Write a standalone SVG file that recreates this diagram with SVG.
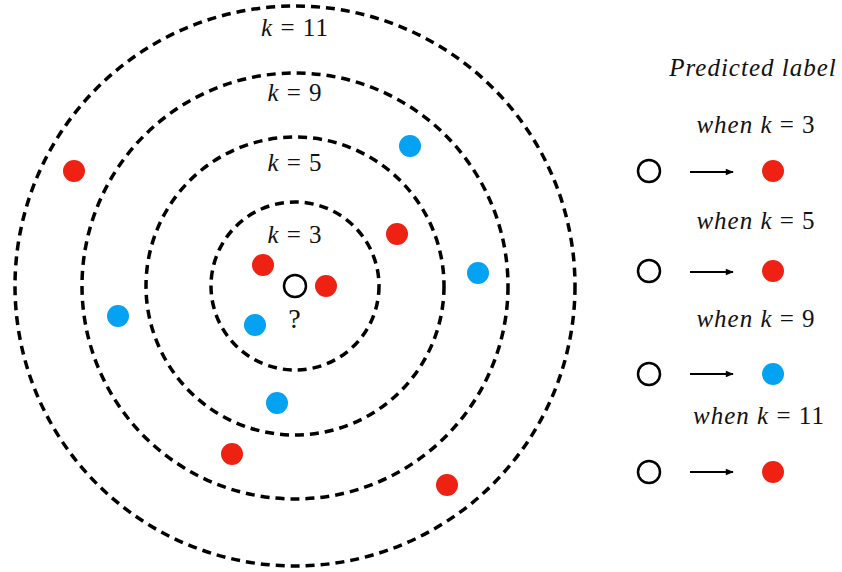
<svg xmlns="http://www.w3.org/2000/svg" width="842" height="572" viewBox="0 0 842 572">
<style>
.ring{fill:none;stroke:#000;stroke-width:3.5;stroke-dasharray:9 6}
.r{fill:#ee2112}
.b{fill:#03a2f2}
.q{fill:#fff;stroke:#000;stroke-width:2.5}
.t{font-family:"Liberation Serif",serif;font-size:25px;fill:#111;text-anchor:middle;letter-spacing:1px}
.i{font-style:italic}
.arr{stroke:#000;stroke-width:1.8;fill:none}
</style>
<defs>
<marker id="ah" viewBox="0 0 10 10" refX="9" refY="5" markerWidth="9" markerHeight="8" markerUnits="userSpaceOnUse" orient="auto">
<path d="M0,1 L10,5 L0,9 z" fill="#000"/>
</marker>
</defs>
<rect width="842" height="572" fill="#fff"/>
<g id="rings">
<circle class="ring" cx="295" cy="286" r="84"/>
<circle class="ring" cx="295" cy="286" r="149"/>
<circle class="ring" cx="295" cy="286" r="213"/>
<circle class="ring" cx="295" cy="286" r="280"/>
</g>
<g id="ring-labels">
<text class="t" x="295" y="36"><tspan class="i">k</tspan> = 11</text>
<text class="t" x="295" y="101"><tspan class="i">k</tspan> = 9</text>
<text class="t" x="295" y="171"><tspan class="i">k</tspan> = 5</text>
<text class="t" x="295" y="243"><tspan class="i">k</tspan> = 3</text>
</g>
<g id="points">
<circle class="r" cx="74" cy="171" r="11"/>
<circle class="b" cx="410" cy="146" r="11"/>
<circle class="r" cx="397" cy="234" r="11"/>
<circle class="b" cx="478" cy="273" r="11"/>
<circle class="r" cx="263" cy="265" r="11"/>
<circle class="r" cx="326" cy="286" r="11"/>
<circle class="b" cx="118" cy="316" r="11"/>
<circle class="b" cx="255" cy="325" r="11"/>
<circle class="b" cx="277" cy="403" r="11"/>
<circle class="r" cx="232" cy="454" r="11"/>
<circle class="r" cx="447" cy="485" r="11"/>
</g>
<g id="query">
<circle class="q" cx="295" cy="286" r="11"/>
<text class="t" x="295" y="328" style="font-size:28px">?</text>
</g>
<g id="legend">
<text class="t i" x="753" y="76">Predicted label</text>
<text class="t" x="756" y="133"><tspan class="i">when k</tspan> = 3</text>
<text class="t" x="756" y="229"><tspan class="i">when k</tspan> = 5</text>
<text class="t" x="756" y="327"><tspan class="i">when k</tspan> = 9</text>
<text class="t" x="759" y="424"><tspan class="i">when k</tspan> = 11</text>
<circle class="q" cx="649" cy="171" r="11"/>
<circle class="r" cx="773" cy="171" r="11"/>
<circle class="q" cx="649" cy="271" r="11"/>
<circle class="r" cx="773" cy="271" r="11"/>
<circle class="q" cx="649" cy="374" r="11"/>
<circle class="b" cx="773" cy="374" r="11"/>
<circle class="q" cx="649" cy="472" r="11"/>
<circle class="r" cx="773" cy="472" r="11"/>
</g>
<g id="connectors">
<line class="arr" x1="690" y1="172" x2="733" y2="172" marker-end="url(#ah)"/>
<line class="arr" x1="690" y1="272" x2="733" y2="272" marker-end="url(#ah)"/>
<line class="arr" x1="690" y1="374" x2="733" y2="374" marker-end="url(#ah)"/>
<line class="arr" x1="690" y1="472" x2="733" y2="472" marker-end="url(#ah)"/>
</g>
</svg>
